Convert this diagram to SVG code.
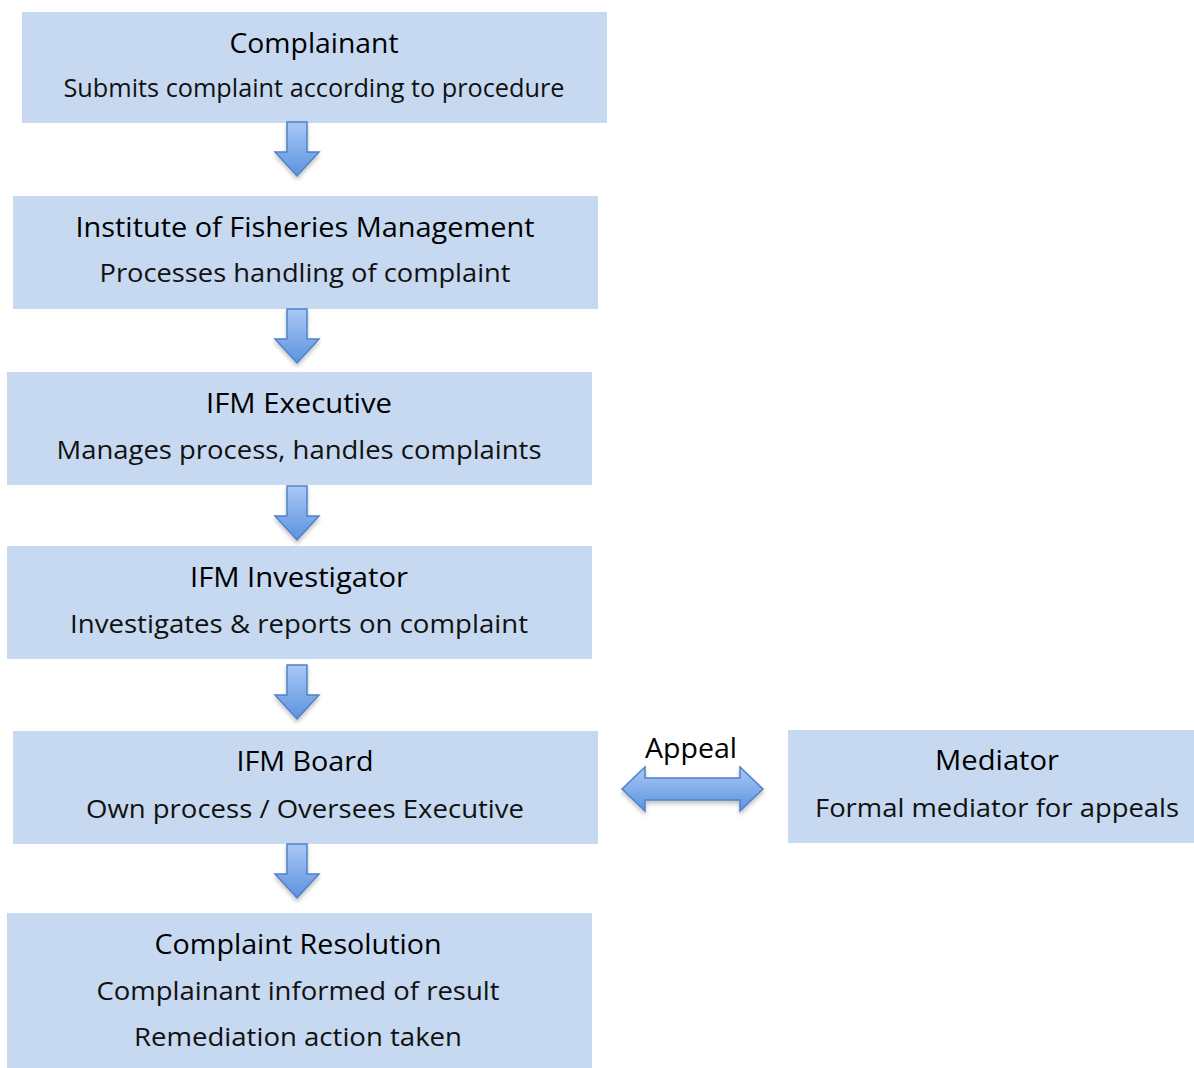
<svg xmlns="http://www.w3.org/2000/svg" width="1194" height="1068" viewBox="0 0 1194 1068">
<style>
.box{fill:#c6d9f0}
.t{font-family:"Open Sans","Liberation Sans",sans-serif;font-size:28px;fill:#000;text-anchor:middle}
.s{font-family:"Open Sans","Liberation Sans",sans-serif;font-size:26px;fill:#111;text-anchor:middle}
.arr{fill:url(#g);stroke:#4f81c9;stroke-width:1.5;filter:url(#sh)}
.harr{fill:url(#gh);stroke:#4f81c9;stroke-width:1.5;filter:url(#sh)}
</style>
<defs>
<linearGradient id="g" x1="0" y1="0" x2="0" y2="1">
<stop offset="0" stop-color="#a9c8f7"/>
<stop offset="1" stop-color="#5c93dd"/>
</linearGradient>
<linearGradient id="gh" x1="0" y1="0" x2="0" y2="1">
<stop offset="0" stop-color="#a9c8f7"/>
<stop offset="1" stop-color="#5c93dd"/>
</linearGradient>
<filter id="sh" x="-30%" y="-30%" width="160%" height="160%">
<feGaussianBlur in="SourceAlpha" stdDeviation="2"/>
<feOffset dx="0" dy="3" result="b"/>
<feComponentTransfer><feFuncA type="linear" slope="0.25"/></feComponentTransfer>
<feMerge><feMergeNode/><feMergeNode in="SourceGraphic"/></feMerge>
</filter>
</defs>
<g id="complainant">
<rect class="box" x="22" y="12" width="585" height="111"/>
<text class="t" x="314" y="53" textLength="169" lengthAdjust="spacingAndGlyphs">Complainant</text>
<text class="s" x="314" y="97" textLength="501" lengthAdjust="spacingAndGlyphs">Submits complaint according to procedure</text>
</g>
<g id="ifm">
<rect class="box" x="13" y="196" width="585" height="113"/>
<text class="t" x="305" y="237" textLength="459" lengthAdjust="spacingAndGlyphs">Institute of Fisheries Management</text>
<text class="s" x="305" y="282" textLength="411" lengthAdjust="spacingAndGlyphs">Processes handling of complaint</text>
</g>
<g id="executive">
<rect class="box" x="7" y="372" width="585" height="113"/>
<text class="t" x="299" y="413" textLength="186" lengthAdjust="spacingAndGlyphs">IFM Executive</text>
<text class="s" x="299" y="459" textLength="485" lengthAdjust="spacingAndGlyphs">Manages process, handles complaints</text>
</g>
<g id="investigator">
<rect class="box" x="7" y="546" width="585" height="113"/>
<text class="t" x="299" y="587" textLength="218" lengthAdjust="spacingAndGlyphs">IFM Investigator</text>
<text class="s" x="299" y="633" textLength="458" lengthAdjust="spacingAndGlyphs">Investigates &amp; reports on complaint</text>
</g>
<g id="board">
<rect class="box" x="13" y="731" width="585" height="113"/>
<text class="t" x="305" y="771" textLength="137" lengthAdjust="spacingAndGlyphs">IFM Board</text>
<text class="s" x="305" y="818" textLength="438" lengthAdjust="spacingAndGlyphs">Own process / Oversees Executive</text>
</g>
<g id="resolution">
<rect class="box" x="7" y="913" width="585" height="155"/>
<text class="t" x="298" y="954" textLength="287" lengthAdjust="spacingAndGlyphs">Complaint Resolution</text>
<text class="s" x="298" y="1000" textLength="403" lengthAdjust="spacingAndGlyphs">Complainant informed of result</text>
<text class="s" x="298" y="1046" textLength="328" lengthAdjust="spacingAndGlyphs">Remediation action taken</text>
</g>
<g id="mediator">
<rect class="box" x="788" y="730" width="406" height="113"/>
<text class="t" x="997" y="770" textLength="124" lengthAdjust="spacingAndGlyphs">Mediator</text>
<text class="s" x="997" y="817" textLength="364" lengthAdjust="spacingAndGlyphs">Formal mediator for appeals</text>
</g>
<g id="connectors">
<path class="arr" d="M287,122 H307 V152 H319 L297,176 L275,152 H287 Z"/>
<path class="arr" d="M287,309 H307 V339 H319 L297,363 L275,339 H287 Z"/>
<path class="arr" d="M287,486 H307 V516 H319 L297,540 L275,516 H287 Z"/>
<path class="arr" d="M287,665 H307 V695 H319 L297,719 L275,695 H287 Z"/>
<path class="arr" d="M287,844 H307 V874 H319 L297,898 L275,874 H287 Z"/>
<path class="harr" d="M622,789 L645,767 V778 H740 V767 L763,789 L740,811 V800 H645 V811 Z"/>
<text class="t" x="691" y="758" textLength="92" lengthAdjust="spacingAndGlyphs">Appeal</text>
</g>
</svg>
